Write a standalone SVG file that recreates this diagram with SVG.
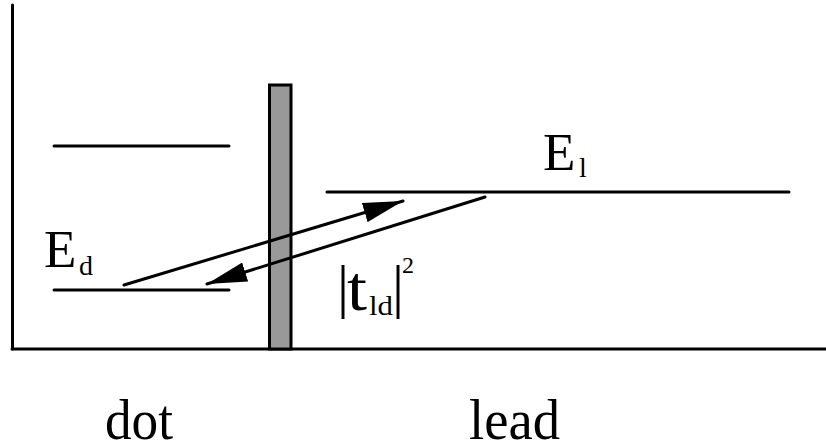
<svg xmlns="http://www.w3.org/2000/svg" width="826" height="448" viewBox="0 0 826 448">
<defs>
<style>
.ln{stroke:#000;stroke-width:3;fill:none;stroke-linecap:round}
.t{font-family:"Liberation Serif","Times New Roman",serif;fill:#000}
</style>
<marker id="ah" viewBox="0 0 40 20" refX="40" refY="10" markerWidth="40" markerHeight="20" markerUnits="userSpaceOnUse" orient="auto">
<path d="M0,0 L40,10 L0,20 Z" fill="#000"/>
</marker>
</defs>
<rect width="826" height="448" fill="#fff"/>
<g id="axes">
<line class="ln" x1="12.5" y1="5" x2="12.5" y2="349"/>
<line class="ln" x1="12" y1="349" x2="826" y2="349" stroke-linecap="butt"/>
</g>
<g id="barrier">
<rect x="269.5" y="85" width="21.5" height="264" fill="#999" stroke="#000" stroke-width="3"/>
</g>
<g id="dot-levels">
<line class="ln" x1="54" y1="146" x2="229" y2="146"/>
<line class="ln" x1="54" y1="290" x2="229" y2="290"/>
<text class="t" x="44" y="267" font-size="53">E</text>
<text class="t" x="79" y="275" font-size="28">d</text>
</g>
<g id="lead-level">
<line class="ln" x1="327" y1="192" x2="789" y2="192"/>
<text class="t" x="543" y="170" font-size="53">E</text>
<text class="t" x="579" y="176.5" font-size="28">l</text>
</g>
<g id="connectors">
<line class="ln" x1="124" y1="285" x2="403" y2="201" marker-end="url(#ah)"/>
<line class="ln" x1="485" y1="197" x2="207" y2="284" marker-end="url(#ah)"/>
</g>
<g id="coupling-label">
<text class="t" x="337" y="306" font-size="60">|</text>
<text class="t" x="347" y="310" font-size="64" textLength="20" lengthAdjust="spacingAndGlyphs">t</text>
<text class="t" x="369" y="315" font-size="28" textLength="24" lengthAdjust="spacingAndGlyphs">ld</text>
<text class="t" x="392" y="306" font-size="60">|</text>
<text class="t" x="402" y="273" font-size="24">2</text>
</g>
<g id="region-labels">
<text class="t" x="105" y="439" font-size="56" textLength="68" lengthAdjust="spacingAndGlyphs">dot</text>
<text class="t" x="469" y="439" font-size="56" textLength="91" lengthAdjust="spacingAndGlyphs">lead</text>
</g>
</svg>
